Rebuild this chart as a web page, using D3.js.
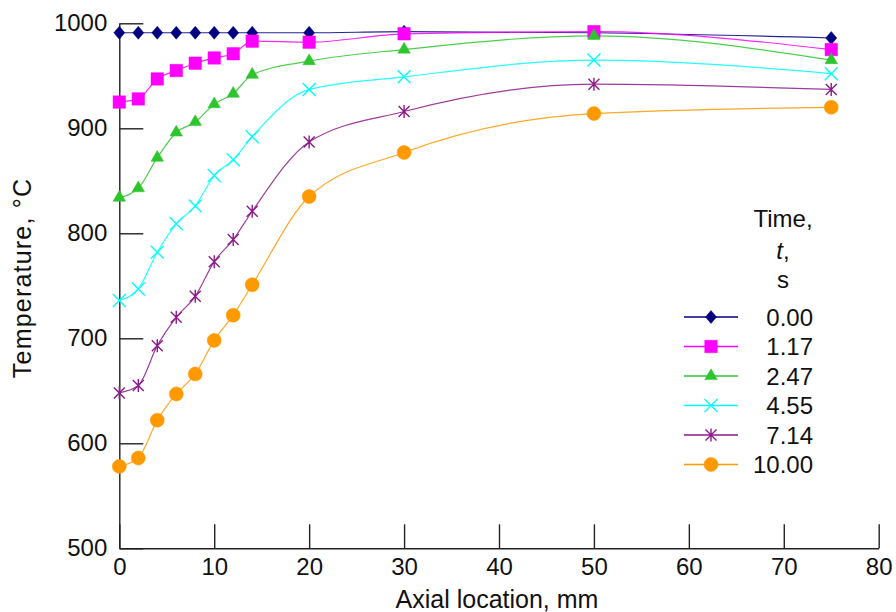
<!DOCTYPE html>
<html>
  <head>
    <title>Temperature vs axial location</title>
    <script src="https://d3js.org/d3.v7.min.js"></script>
    <style>
      body { margin: 0; background: #fff; }
      text { font-family: "Liberation Sans", Arial, sans-serif; fill: #111; }
      .axis path, .axis line { stroke: #222; stroke-width: 1.4; }
      .axis text { font-size: 24px; fill: #111; font-family: "Liberation Sans", Arial, sans-serif; }
      .axis-label { font-size: 25px; }
      .legend text { font-size: 24px; }
    </style>
  </head>
  <body>
    <div id="chart"></div>
    <script>
      // Data
      const positions = [0, 2, 4, 6, 8, 10, 12, 14, 20, 30, 50, 75];
      const times = ["0.00", "1.17", "2.47", "4.55", "7.14", "10.00"];
      const t000 = [991, 991, 991, 991, 991, 991, 991, 991, 991, 992, 991, 986];
      const t117 = [925, 928, 947, 955, 962, 967, 971, 983, 982, 990, 992, 975];
      const t247 = [834, 843, 872, 896, 906, 923, 933, 951, 964, 975, 988, 965];
      const t455 = [736, 747, 782, 809, 826, 855, 870, 892, 937, 949, 965, 952];
      const t714 = [648, 655, 693, 720, 740, 773, 794, 821, 887, 916, 942, 937];
      const t1000 = [578, 586, 622, 647, 666, 698, 722, 751, 835, 877, 914, 920];
      const xTicks = [0, 10, 20, 30, 40, 50, 60, 70, 80];
      const yTicks = [500, 600, 700, 800, 900, 1000];

      const colors = ["#000080", "#ff00ff", "#2ec42e", "#00ffff", "#8b1a8b", "#ff9900"];
      const seriesValues = [t000, t117, t247, t455, t714, t1000];

      // custom marker shapes
      const diamond = {
        draw(ctx) {
          ctx.moveTo(0, -6.5); ctx.lineTo(5.5, 0); ctx.lineTo(0, 6.5); ctx.lineTo(-5.5, 0); ctx.closePath();
        }
      };
      const cross = {
        draw(ctx) {
          const r = 6.5;
          ctx.moveTo(-r, -r); ctx.lineTo(r, r);
          ctx.moveTo(-r, r); ctx.lineTo(r, -r);
        }
      };
      const star = {
        draw(ctx) {
          const a = 5.5, b = 6.5;
          ctx.moveTo(-a, -a); ctx.lineTo(a, a);
          ctx.moveTo(-a, a); ctx.lineTo(a, -a);
          ctx.moveTo(0, -b); ctx.lineTo(0, b);
        }
      };
      const markers = [
        { type: diamond, size: 1, filled: true },
        { type: d3.symbolSquare, size: 156, filled: true },
        { type: d3.symbolTriangle, size: 68, filled: true },
        { type: cross, size: 1, filled: false },
        { type: star, size: 1, filled: false },
        { type: d3.symbolCircle, size: 154, filled: true }
      ];

      const width = 896;
      const height = 612;

      const svg = d3
        .select("#chart")
        .append("svg")
        .attr("width", width)
        .attr("height", height);

      // scales
      const x = d3.scaleLinear().domain([0, 80]).range([119.3, 878.7]);
      const y = d3.scaleLinear().domain([500, 1000]).range([548.3, 23.3]);

      // x axis with ticks pointing up
      svg
        .append("g")
        .attr("class", "axis")
        .attr("transform", `translate(0, ${y(500)})`)
        .call(d3.axisBottom(x).tickValues(xTicks).tickSizeInner(-24).tickSizeOuter(0).tickPadding(10).tickFormat(d3.format("d")));

      // y axis with ticks pointing right
      svg
        .append("g")
        .attr("class", "axis")
        .attr("transform", `translate(${x(0)}, 0)`)
        .call(d3.axisLeft(y).tickValues(yTicks).tickSizeInner(-24).tickSizeOuter(0).tickPadding(12).tickFormat(d3.format("d")));

      svg.selectAll(".axis .domain").attr("stroke", "#222");

      // lines
      const line = d3
        .line()
        .x((d, i) => x(positions[i]))
        .y((d) => y(d))
        .curve(d3.curveMonotoneX);

      seriesValues.forEach((vals, s) => {
        svg
          .append("path")
          .attr("d", line(vals))
          .attr("fill", "none")
          .attr("stroke", colors[s])
          .attr("stroke-width", 1.2)
          .attr("stroke-opacity", 0.85);
      });

      // markers
      const symbolPath = (m) => d3.symbol().type(m.type).size(m.size)();

      seriesValues.forEach((vals, s) => {
        const m = markers[s];
        svg
          .append("g")
          .selectAll("path")
          .data(vals)
          .enter()
          .append("path")
          .attr("transform", (d, i) => `translate(${x(positions[i])}, ${y(d)})`)
          .attr("d", symbolPath(m))
          .attr("fill", m.filled ? colors[s] : "none")
          .attr("stroke", colors[s])
          .attr("stroke-width", m.filled ? 0.5 : 1.4);
      });

      // axis labels
      svg
        .append("text")
        .attr("class", "axis-label")
        .attr("x", 497)
        .attr("y", 608)
        .style("text-anchor", "middle")
        .text("Axial location, mm");

      svg
        .append("text")
        .attr("class", "axis-label")
        .attr("transform", "translate(31, 278) rotate(-90)")
        .style("text-anchor", "middle")
        .style("letter-spacing", "1.2px")
        .text("Temperature, \u00b0C");

      // legend
      const legend = svg.append("g").attr("class", "legend");

      legend.append("text").attr("x", 783).attr("y", 227).style("text-anchor", "middle").text("Time,");
      const tLine = legend.append("text").attr("x", 783).attr("y", 259).style("text-anchor", "middle");
      tLine.append("tspan").style("font-style", "italic").text("t");
      tLine.append("tspan").text(",");
      legend.append("text").attr("x", 783).attr("y", 288).style("text-anchor", "middle").text("s");

      times.forEach((t, s) => {
        const ly = 317 + s * 29.5;
        legend
          .append("line")
          .attr("x1", 684)
          .attr("x2", 738)
          .attr("y1", ly)
          .attr("y2", ly)
          .attr("stroke", colors[s])
          .attr("stroke-width", 1.3);
        const m = markers[s];
        legend
          .append("path")
          .attr("transform", `translate(711, ${ly})`)
          .attr("d", symbolPath(m))
          .attr("fill", m.filled ? colors[s] : "none")
          .attr("stroke", colors[s])
          .attr("stroke-width", m.filled ? 0.5 : 1.4);
        legend
          .append("text")
          .attr("x", 813)
          .attr("y", ly)
          .attr("dy", "0.36em")
          .style("text-anchor", "end")
          .text(t);
      });
    </script>
  </body>
</html>
